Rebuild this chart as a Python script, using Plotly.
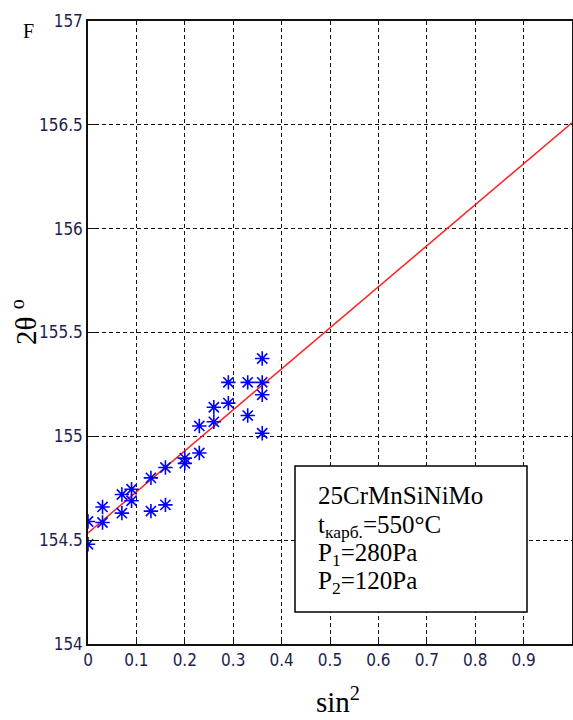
import plotly.graph_objects as go

# measured points (sin^2 psi, 2theta in degrees)
sin2_psi = [0.0, 0.0, 0.03, 0.03, 0.07, 0.07, 0.09, 0.09, 0.13, 0.13,
            0.16, 0.16, 0.20, 0.20, 0.23, 0.23, 0.26, 0.26, 0.29, 0.29,
            0.33, 0.33, 0.36, 0.36, 0.36, 0.36]
two_theta = [154.59, 154.48, 154.66, 154.585, 154.72, 154.63, 154.745, 154.69, 154.80, 154.64,
             154.85, 154.67, 154.895, 154.87, 154.92, 155.05, 155.14, 155.07, 155.26, 155.16,
             155.26, 155.10, 155.375, 155.26, 155.20, 155.015]

# fitted regression line (end points)
fit_x = [0.0, 1.0]
fit_y = [154.535, 156.51]

x_ticks = [0, 0.1, 0.2, 0.3, 0.4, 0.5, 0.6, 0.7, 0.8, 0.9, 1]
x_tick_labels = ["0", "0.1", "0.2", "0.3", "0.4", "0.5", "0.6", "0.7", "0.8", "0.9", "1"]
y_ticks = [154, 154.5, 155, 155.5, 156, 156.5, 157]
y_tick_labels = ["154", "154.5", "155", "155.5", "156", "156.5", "157"]

info_lines = ["25CrMnSiNiMo",
              "t<sub>карб.</sub>=550°C",
              "P<sub>1</sub>=280Pa",
              "P<sub>2</sub>=120Pa"]

W, H = 573, 720
L, R, T, B = 88, 1, 21, 76
pw, ph = W - L - R, H - T - B

def px(xp):
    return (xp - L) / pw

def py(yp):
    return (H - B - yp) / ph

serif = "Liberation Serif, Times New Roman, serif"
narrow = "DejaVu Sans Condensed, Liberation Sans Narrow, Arial Narrow, sans-serif"

fig = go.Figure()
fig.add_trace(go.Scatter(x=fit_x, y=fit_y, mode="lines",
                         line=dict(color="#ff2020", width=1.5), showlegend=False))
fig.add_trace(go.Scatter(x=sin2_psi, y=two_theta, mode="markers",
                         marker=dict(symbol="asterisk-open", size=12, color="#0000ff",
                                     line=dict(color="#0000ff", width=1.6)),
                         showlegend=False))

axis_common = dict(showgrid=True, gridcolor="#111111", gridwidth=1, griddash="4px,3px",
                   showline=True, linecolor="#111111", linewidth=1.5, mirror=True,
                   ticks="inside", ticklen=7, tickcolor="#111111", zeroline=False,
                   automargin=False,
                   tickfont=dict(family=narrow, size=17, color="#1e1e50"))

fig.update_xaxes(range=[0, 1], tickvals=x_ticks, ticktext=x_tick_labels, **axis_common)
fig.update_yaxes(range=[154, 157], tickvals=y_ticks, ticktext=y_tick_labels, **axis_common)

anns = []
# info box text
line_centers = [495, 526, 554, 582]
for txt, yc in zip(info_lines, line_centers):
    anns.append(dict(x=px(316), y=py(yc), xref="paper", yref="paper", text=txt,
                     showarrow=False, xanchor="left", yanchor="middle",
                     font=dict(family=serif, size=25, color="black")))
# axis titles
anns.append(dict(x=px(338), y=py(700), xref="paper", yref="paper",
                 text="sin<sup>2</sup>", showarrow=False, xanchor="center", yanchor="middle",
                 font=dict(family=serif, size=29, color="black")))
anns.append(dict(x=px(24), y=py(322), xref="paper", yref="paper",
                 text="2θ <sup>o</sup>", showarrow=False, textangle=-90,
                 xanchor="center", yanchor="middle",
                 font=dict(family=serif, size=29, color="black")))
anns.append(dict(x=px(28), y=py(31), xref="paper", yref="paper",
                 text="F", showarrow=False, xanchor="center", yanchor="middle",
                 font=dict(family=serif, size=20, color="black")))

fig.update_layout(
    width=W, height=H,
    margin=dict(l=L, r=R, t=T, b=B, pad=0, autoexpand=False),
    paper_bgcolor="white", plot_bgcolor="white",
    annotations=anns,
    shapes=[dict(type="rect", xref="paper", yref="paper",
                 x0=px(295), x1=px(527), y0=py(612), y1=py(466),
                 line=dict(color="black", width=1.5), fillcolor="white", layer="above")],
)

fig.write_html("out.html", config={"displayModeBar": False},
               post_script="document.body.style.margin='0';document.body.style.overflow='hidden';")
